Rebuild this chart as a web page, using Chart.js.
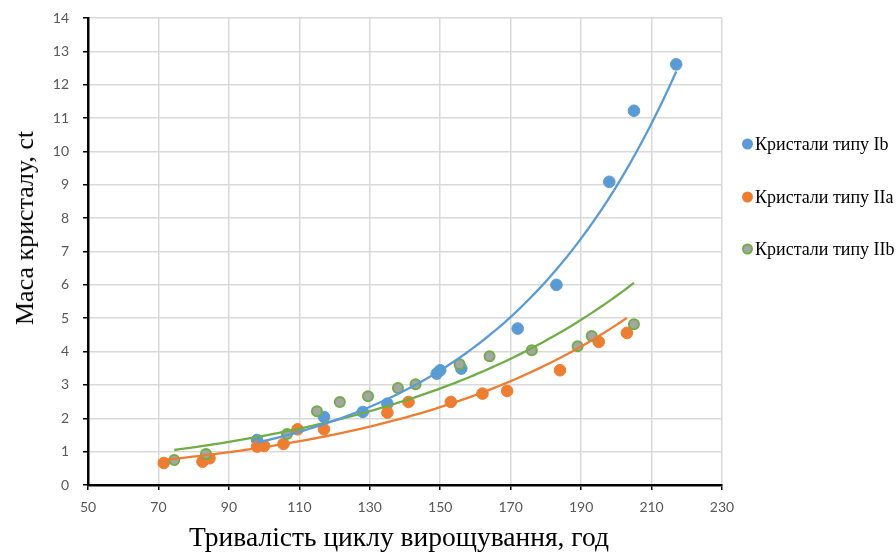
<!DOCTYPE html>
<html>
<head>
<meta charset="utf-8">
<script src="https://cdn.jsdelivr.net/npm/chart.js@4/dist/chart.umd.min.js"></script>
<style>
  html, body { margin: 0; padding: 0; background: #fff; }
  #wrap { position: relative; width: 896px; height: 552px; overflow: hidden; }
  #chart { position: absolute; left: 0; top: 0; }
  .title { position: absolute; font-family: "Liberation Serif", "Times New Roman", serif; color: #000; white-space: nowrap; }
  #xTitle { left: 399px; top: 523px; font-size: 27.5px; line-height: 28px; transform: translateX(-50%); }
  #yTitle { left: 25px; top: 228px; font-size: 26px; line-height: 26px; transform: translate(-50%, -50%) rotate(-90deg); }
  #legend { position: absolute; left: 742px; top: 0; font-family: "Liberation Serif", "Times New Roman", serif; font-size: 18px; color: #000; }
  .item { position: absolute; left: 0; display: flex; align-items: center; white-space: nowrap; transform: translateY(-50%); }
  .dot { width: 11px; height: 11px; border-radius: 50%; margin-right: 2px; box-sizing: border-box; }
</style>
</head>
<body>
<div id="wrap">
  <canvas id="chart" width="896" height="552"></canvas>
  <div id="yTitle" class="title">Маса кристалу, ct</div>
  <div id="xTitle" class="title">Тривалість циклу вирощування, год</div>
  <div id="legend"></div>
</div>
<script>
// Growth-cycle duration (hours) and crystal mass (carats) for each crystal type
const ibHours   = [98, 117, 128, 135, 149, 150, 156, 172, 183, 198, 205, 217];
const ibMass    = [1.35, 2.04, 2.19, 2.44, 3.34, 3.44, 3.49, 4.69, 6.0, 9.09, 11.22, 12.61];

const iiaHours  = [71.5, 82.5, 84.5, 98, 100, 105.5, 109.5, 117, 135, 141, 153, 162, 169, 184, 195, 203];
const iiaMass   = [0.66, 0.70, 0.80, 1.15, 1.17, 1.23, 1.67, 1.67, 2.17, 2.49, 2.49, 2.74, 2.82, 3.44, 4.29, 4.56];

const iibHours  = [74.5, 83.5, 106.5, 115, 121.5, 129.5, 138, 143, 155.5, 164, 176, 189, 193, 205];
const iibMass   = [0.75, 0.93, 1.53, 2.21, 2.49, 2.66, 2.91, 3.02, 3.62, 3.86, 4.04, 4.16, 4.47, 4.82];

const seriesNames = ['Кристали типу Ib', 'Кристали типу IIa', 'Кристали типу IIb'];

// Axis ranges and tick steps
const xTicks = { min: 50, max: 230, step: 20 };
const yTicks = { min: 0, max: 14, step: 1 };

const colors = {
  ib:  { fill: '#5B9BD5', line: '#5B9BD5', border: '#5B9BD5' },
  iia: { fill: '#ED7D31', line: '#ED7D31', border: '#ED7D31' },
  iib: { fill: '#A5A5A5', line: '#70AD47', border: '#70AD47' }
};

const toPoints = (xs, ys) => xs.map((x, i) => ({ x, y: ys[i] }));

// Exponential least-squares trendline y = a*e^(kx), fitted on ln(y)
function expTrend(xs, ys, samples = 80) {
  const n = xs.length;
  const ly = ys.map(Math.log);
  const mx = xs.reduce((s, v) => s + v, 0) / n;
  const my = ly.reduce((s, v) => s + v, 0) / n;
  let sxy = 0, sxx = 0;
  for (let i = 0; i < n; i++) { sxy += (xs[i] - mx) * (ly[i] - my); sxx += (xs[i] - mx) ** 2; }
  const k = sxy / sxx;
  const lnA = my - k * mx;
  const x0 = Math.min(...xs), x1 = Math.max(...xs);
  const pts = [];
  for (let j = 0; j <= samples; j++) {
    const x = x0 + (x1 - x0) * j / samples;
    pts.push({ x, y: Math.exp(lnA + k * x) });
  }
  return pts;
}

const pointSet = (label, xs, ys, c, order, bw) => ({
  label, data: toPoints(xs, ys), order,
  backgroundColor: c.fill, borderColor: c.border, borderWidth: bw,
  pointRadius: bw > 1 ? 5 : 5.8, pointHoverRadius: 5, showLine: false
});
const trendSet = (xs, ys, c) => ({
  label: 'trend', data: expTrend(xs, ys), order: 0,
  borderColor: c.line, borderWidth: 2.3, pointRadius: 0, showLine: true, fill: false, tension: 0
});

new Chart(document.getElementById('chart'), {
  type: 'scatter',
  data: {
    datasets: [
      pointSet(seriesNames[0], ibHours, ibMass, colors.ib, 3, 1),
      pointSet(seriesNames[1], iiaHours, iiaMass, colors.iia, 2, 1),
      pointSet(seriesNames[2], iibHours, iibMass, colors.iib, 1, 2),
      trendSet(ibHours, ibMass, colors.ib),
      trendSet(iiaHours, iiaMass, colors.iia),
      trendSet(iibHours, iibMass, colors.iib)
    ]
  },
  options: {
    responsive: false,
    animation: false,
    layout: { padding: { left: 40, right: 174, top: 18, bottom: 27 } },
    plugins: { legend: { display: false }, tooltip: { enabled: false } },
    scales: {
      x: {
        type: 'linear', min: xTicks.min, max: xTicks.max,
        afterFit: s => { s.height = 40; },
        ticks: { stepSize: xTicks.step, color: '#595959', padding: 9, font: { family: 'Lato', size: 14 } },
        grid: { color: '#D9D9D9', lineWidth: 1.5, tickColor: '#000', tickLength: 5, drawTicks: true },
        border: { color: '#000', width: 2.5 }
      },
      y: {
        type: 'linear', min: yTicks.min, max: yTicks.max,
        afterFit: s => { s.width = 48; s.paddingTop = 0; s.paddingBottom = 0; },
        ticks: { stepSize: yTicks.step, color: '#595959', padding: 14, font: { family: 'Lato', size: 14 } },
        grid: { color: '#D9D9D9', lineWidth: 1.5, tickColor: '#000', tickLength: 5, drawTicks: true },
        border: { color: '#000', width: 2.5 }
      }
    }
  }
});

// Legend entries for the three measured series
const legendEl = document.getElementById('legend');
const legendRows = [
  { name: seriesNames[0], c: colors.ib, top: 144 },
  { name: seriesNames[1], c: colors.iia, top: 197 },
  { name: seriesNames[2], c: colors.iib, top: 249 }
];
legendRows.forEach(r => {
  const item = document.createElement('div');
  item.className = 'item';
  item.style.top = r.top + 'px';
  const dot = document.createElement('span');
  dot.className = 'dot';
  dot.style.background = r.c.fill;
  dot.style.border = (r.c.border === r.c.fill ? '0' : '2px') + ' solid ' + r.c.border;
  const txt = document.createElement('span');
  txt.textContent = r.name;
  item.appendChild(dot);
  item.appendChild(txt);
  legendEl.appendChild(item);
});
</script>
</body>
</html>
